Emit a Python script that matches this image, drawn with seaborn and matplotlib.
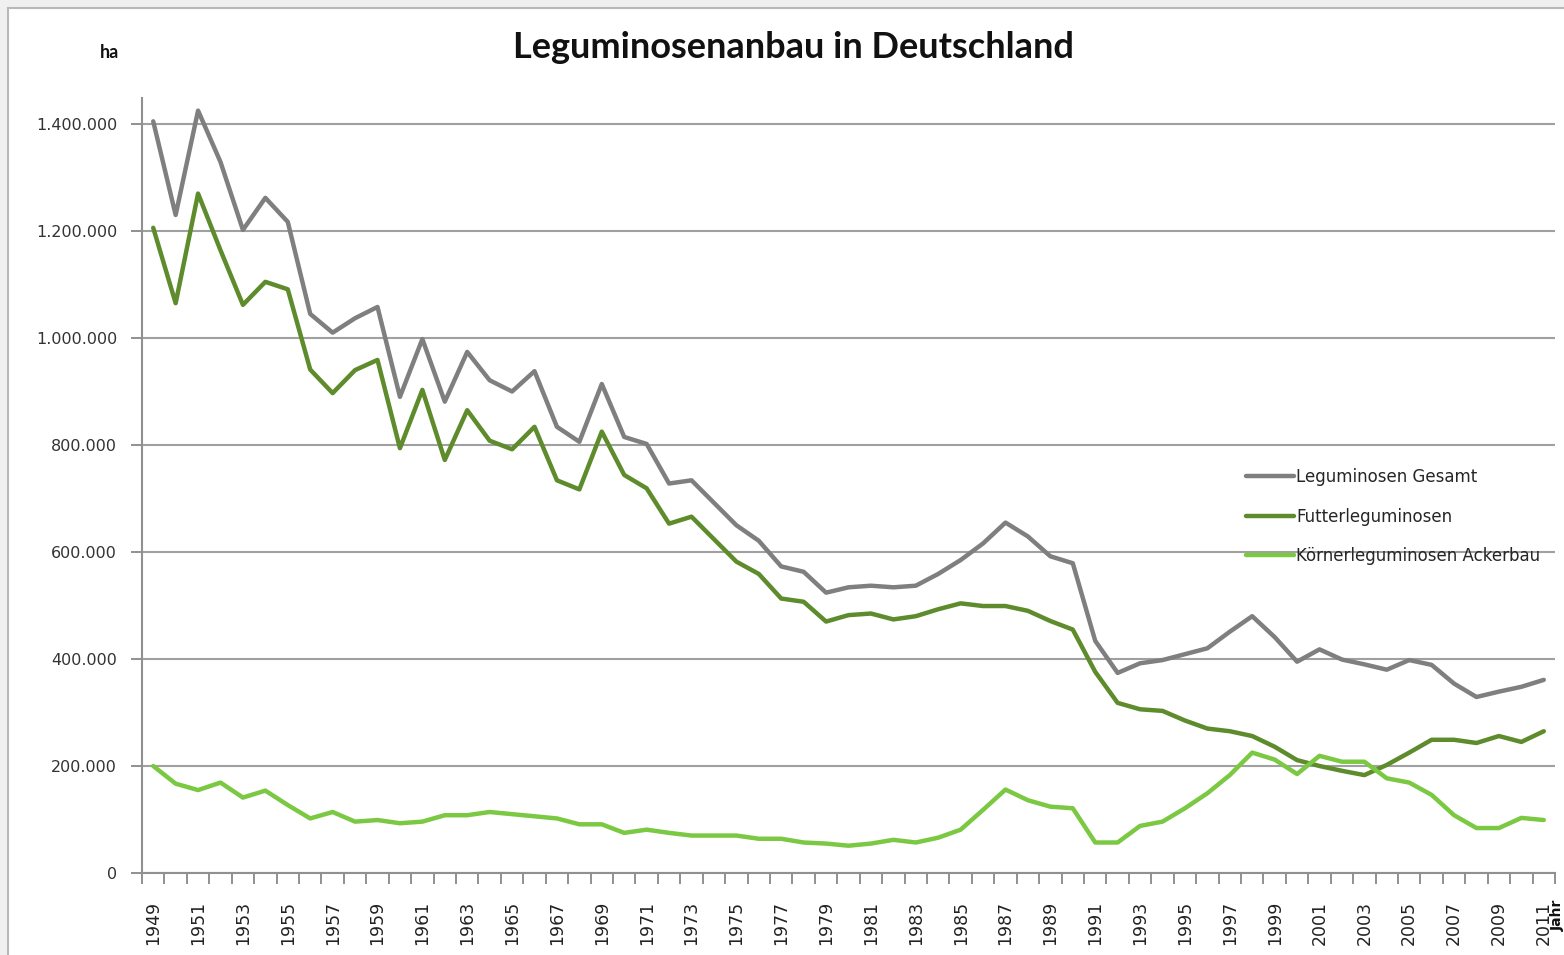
import numpy as np
import pandas as pd
import matplotlib
matplotlib.use("Agg")
import matplotlib.pyplot as plt
import matplotlib.ticker as mticker
from matplotlib.patches import Rectangle
import seaborn as sns

# --- Daten (in ha) ---
jahre = list(range(1949, 2012))

gesamt = [1405000, 1230000, 1425000, 1329000, 1202000, 1262000, 1217000, 1045000,
          1010000, 1037000, 1058000, 890000, 998000, 881000, 974000, 921000,
          900000, 938000, 834000, 806000, 914000, 815000, 802000, 728000,
          734000, 692000, 650000, 621000, 573000, 563000, 524000, 534000,
          537000, 534000, 537000, 559000, 585000, 616000, 655000, 629000,
          592000, 579000, 434000, 374000, 392000, 398000, 409000, 420000,
          451000, 480000, 441000, 395000, 418000, 399000, 390000, 380000,
          398000, 389000, 354000, 329000, 339000, 348000, 361000]

futter = [1206000, 1065000, 1270000, 1164000, 1062000, 1105000, 1091000, 941000,
          897000, 940000, 959000, 794000, 903000, 772000, 865000, 808000,
          792000, 834000, 734000, 717000, 825000, 744000, 719000, 653000,
          666000, 624000, 582000, 559000, 513000, 507000, 470000, 482000,
          485000, 474000, 480000, 493000, 504000, 499000, 499000, 490000,
          471000, 455000, 376000, 318000, 306000, 303000, 285000, 270000,
          265000, 256000, 236000, 211000, 200000, 191000, 183000, 202000,
          225000, 249000, 249000, 243000, 256000, 245000, 265000]

koerner = [200000, 167000, 155000, 169000, 141000, 154000, 127000, 102000,
           114000, 96000, 99000, 93000, 96000, 108000, 108000, 114000,
           110000, 106000, 102000, 91000, 91000, 75000, 81000, 75000,
           70000, 70000, 70000, 64000, 64000, 57000, 55000, 51000,
           55000, 62000, 57000, 66000, 81000, 118000, 156000, 136000,
           124000, 121000, 57000, 57000, 88000, 96000, 121000, 149000,
           183000, 225000, 212000, 185000, 219000, 208000, 208000, 177000,
           169000, 146000, 108000, 84000, 84000, 103000, 99000]

serien = ["Leguminosen Gesamt", "Futterleguminosen", "Körnerleguminosen Ackerbau"]
farben = ["#7f7f7f", "#5e8b2b", "#7bc843"]

df = pd.DataFrame({"Jahr": jahre, serien[0]: gesamt, serien[1]: futter, serien[2]: koerner})
df_lang = df.melt(id_vars="Jahr", var_name="Serie", value_name="ha")

# --- Grafik ---
sns.set_style("white")
plt.rcParams["font.family"] = ["DejaVu Sans"]

fig = plt.figure(figsize=(15.64, 9.55), dpi=100)
fig.patch.set_facecolor("#f0f0f0")
# weisser Diagrammbereich mit grauem Rand (rechts/unten abgeschnitten)
fig.patches.append(Rectangle((8 / 1564, -0.1), 1.2, 1 - 8 / 955 + 0.1,
                             transform=fig.transFigure, facecolor="white",
                             edgecolor="#b8b8b8", linewidth=1.5, zorder=-5))

ax = fig.add_axes([142 / 1564, 1 - 873 / 955, (1555 - 142) / 1564, (873 - 98) / 955])
ax.set_zorder(2)
ax.patch.set_alpha(0)

sns.lineplot(data=df_lang, x="Jahr", y="ha", hue="Serie", hue_order=serien,
             palette=farben, linewidth=3.2, ax=ax, legend=True, zorder=3)

ax.set_xlim(1948.5, 2011.5)
ax.set_ylim(0, 1448600)

ax.yaxis.set_major_locator(mticker.MultipleLocator(200000))
ax.yaxis.set_major_formatter(mticker.FuncFormatter(lambda v, p: f"{int(v):,}".replace(",", ".")))
ax.grid(axis="y", color="#a0a0a0", linewidth=1.5, zorder=0)
ax.grid(axis="x", visible=False)

# Kategorie-Achse wie in Excel: Striche zwischen den Jahren, Beschriftung jedes zweite Jahr
ax.set_xticks(jahre[::2])
ax.set_xticklabels([str(j) for j in jahre[::2]], rotation=90)
ax.set_xticks(np.arange(1948.5, 2012, 1), minor=True)
ax.tick_params(axis="x", which="major", length=0, pad=20, labelsize=12.5, labelcolor="#222222")
ax.tick_params(axis="x", which="minor", length=8, width=1.3, color="#888888", direction="out",
               bottom=True)
ax.tick_params(axis="y", which="major", length=8, width=1.3, color="#888888", direction="out",
               labelsize=11.5, labelcolor="#333333", pad=10, left=True)

for side in ["top", "right"]:
    ax.spines[side].set_visible(False)
for side in ["left", "bottom"]:
    ax.spines[side].set_color("#909090")
    ax.spines[side].set_linewidth(1.5)

ax.set_xlabel("")
ax.set_ylabel("")

# Legende
handles, labels = ax.get_legend_handles_labels()
leg = ax.legend(handles, labels, loc="upper left", bbox_to_anchor=(1246 / 1564, 1 - 468 / 955),
                bbox_transform=fig.transFigure, frameon=False, fontsize=12,
                handlelength=2.9, handletextpad=0.1, labelspacing=1.3,
                borderaxespad=0, borderpad=0)
for line in leg.get_lines():
    line.set_linewidth(3.2)

# Titel und Beschriftungen
fig.text(793 / 1564, 1 - 48 / 955, "Leguminosenanbau in Deutschland", ha="center", va="center",
         fontsize=26, fontweight="bold", family=["Lato", "DejaVu Sans"], color="#111111")
fig.text(109 / 1564, 1 - 52 / 955, "ha", ha="center", va="center", fontsize=13,
         fontweight="bold", family=["Lato", "DejaVu Sans"], color="#111111")
fig.text(1558 / 1564, 1 - 915 / 955, "Jahr", ha="center", va="center", rotation=90,
         fontsize=10, fontweight="bold", color="#111111")

fig.savefig("out.png", dpi=100, facecolor=fig.get_facecolor())
